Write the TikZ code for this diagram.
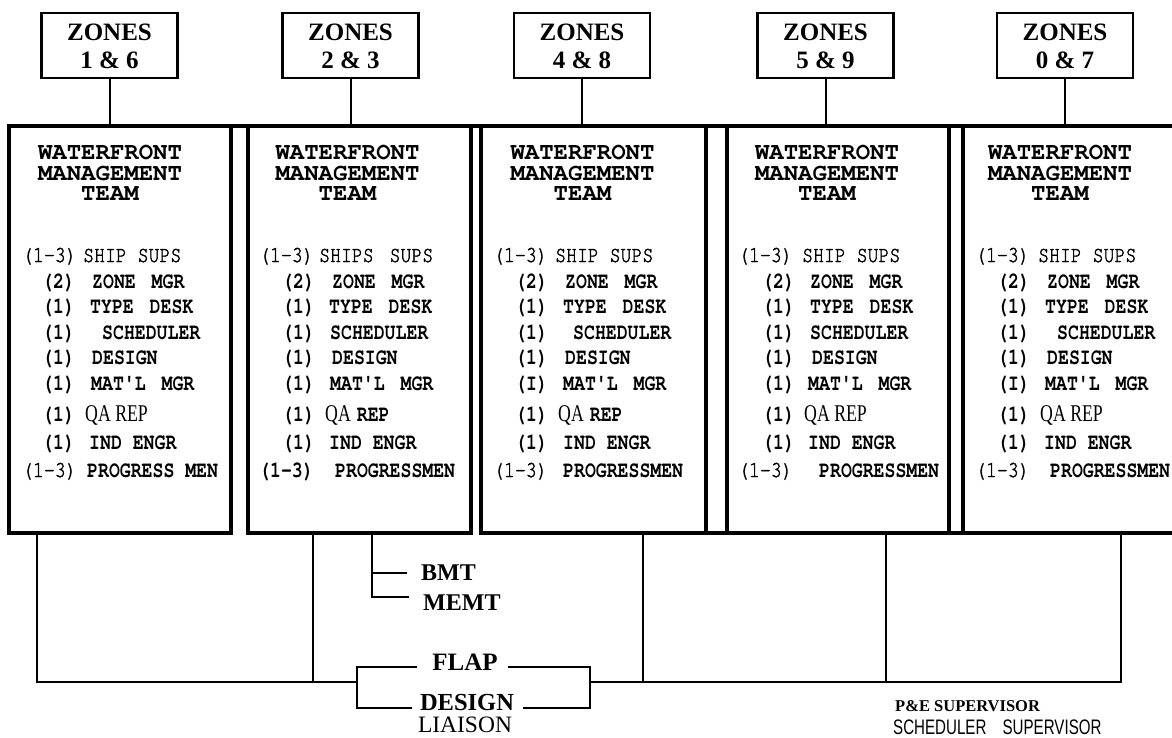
\documentclass[tikz,border=0pt]{standalone}
\usepackage{fontspec}
\setmainfont{Liberation Serif}
\IfFontExistsTF{TeX Gyre Cursor}{%
  \newfontfamily\cur{TeX Gyre Cursor}[Ligatures=TeXOff]
  \newfontfamily\curc{TeX Gyre Cursor}[FakeStretch=0.79,Ligatures=TeXOff]
  \newfontfamily\curm{TeX Gyre Cursor}[FakeStretch=0.79,FakeBold=1.6,Ligatures=TeXOff]
}{%
  \newfontfamily\cur{Liberation Mono}[Ligatures=TeXOff]
  \newfontfamily\curc{Liberation Mono}[FakeStretch=0.79,Ligatures=TeXOff]
  \newfontfamily\curm{Liberation Mono}[FakeStretch=0.79,Ligatures=TeXOff]
}
\newfontfamily\serc{Liberation Serif}[FakeStretch=0.74]
\newfontfamily\sansc{Liberation Sans}[FakeStretch=0.72]
\newcommand\zf{\bfseries\fontsize{25}{28}\selectfont}
\newcommand\wf{\cur\bfseries\fontsize{24}{20.8}\selectfont}
\newcommand\lf{\curc\bfseries\fontsize{23}{23}\selectfont}
\newcommand\lr{\curm\fontsize{23}{23}\selectfont}
\newcommand\qf{\serc\fontsize{24}{24}\selectfont}
\newcommand\gp{\hspace{5pt}}
\newcommand\zl[1]{\raisebox{-3pt}[\height][\depth]{\begin{tabular}{@{}c@{}}ZONES\\#1\end{tabular}}}
\newcounter{nn}
\newcommand\itm[5]{\stepcounter{nn}%
  \node[lbl] (p\thenn) at (#1,#3) {#4};%
  \node[lbl] (t\thenn) at (#2,#3) {#5};}
\tikzset{
  zonebox/.style={draw, line width=2.4pt, minimum width=136pt, minimum height=65pt,
    inner sep=0pt, outer sep=0pt, align=center, font=\zf},
  mainbox/.style={draw, line width=3.6pt, inner sep=0pt, outer sep=0pt},
  frame/.style={line width=3.6pt},
  conn/.style={line width=2pt},
  title/.style={inner sep=0pt, align=center, font=\wf},
  lbl/.style={inner sep=0pt, anchor=base west},
  blbl/.style={inner sep=0pt, font=\bfseries\fontsize{24}{24}\selectfont},
}
\begin{document}
\begin{tikzpicture}[x=1pt,y=-1pt]
\fill[white] (0,0) rectangle (1172,738);
\useasboundingbox (0,0) rectangle (1172,738);

% zone boxes
\node[zonebox] (z1) at (109.5,45.5) {\zl{1 \& 6}};
\node[zonebox] (z2) at (350.5,45.5) {\zl{2 \& 3}};
\node[zonebox] (z3) at (582,45.5) {\zl{4 \& 8}};
\node[zonebox] (z4) at (825.5,45.5) {\zl{5 \& 9}};
\node[zonebox] (z5) at (1065,45.5) {\zl{0 \& 7}};

% main boxes
\node[mainbox, minimum width=222pt, minimum height=407pt] (m1) at (120,329.5) {};
\node[mainbox, minimum width=223pt, minimum height=407pt] (m2) at (359.5,329.5) {};
\node[mainbox, minimum width=225pt, minimum height=407pt] (m3) at (593.5,329.5) {};
\node[mainbox, minimum width=222pt, minimum height=407pt] (m4) at (838,329.5) {};
\node[mainbox, minimum width=237pt, minimum height=407pt] (m5) at (1081.5,329.5) {};
\draw[frame] (m1.north west) -- (m5.north east);
\draw[frame] (m3.south east) -- (m4.south west);
\draw[frame] (m4.south east) -- (m5.south west);

% zone stems
\foreach \i in {1,...,5}{\draw[conn] (z\i.south) -- (z\i.south |- m\i.north);}

% titles
\node[title] (w1) at (110,173) {WATERFRONT\\MANAGEMENT\\TEAM};
\node[title] (w2) at (347.5,173) {WATERFRONT\\MANAGEMENT\\TEAM};
\node[title] (w3) at (582.5,173) {WATERFRONT\\MANAGEMENT\\TEAM};
\node[title] (w4) at (827,173) {WATERFRONT\\MANAGEMENT\\TEAM};
\node[title] (w5) at (1060,173) {WATERFRONT\\MANAGEMENT\\TEAM};

% box A
\itm{22}{83}{262}{\lr(1-3)}{\lr SHIP SUPS}
\itm{42}{92}{288}{\lf(2)}{\lf ZONE \gp MGR}
\itm{42}{90}{313}{\lf(1)}{\lf TYPE \gp DESK}
\itm{42}{102}{339}{\lf(1)}{\lf SCHEDULER}
\itm{42}{92}{364}{\lf(1)}{\lf DESIGN}
\itm{42}{91}{390}{\lf(1)}{\lf MAT'L \gp MGR}
\itm{42}{85}{421}{\lf(1)}{\qf QA REP}
\itm{42}{89}{449}{\lf(1)}{\lf IND ENGR}
\itm{22}{87}{477}{\lr(1-3)}{\lf PROGRESS MEN}
% box B
\itm{259}{319}{262}{\lr(1-3)}{\lr SHIPS \gp SUPS}
\itm{282}{332}{288}{\lf(2)}{\lf ZONE \gp MGR}
\itm{282}{329}{313}{\lf(1)}{\lf TYPE \gp DESK}
\itm{282}{330}{339}{\lf(1)}{\lf SCHEDULER}
\itm{282}{332}{364}{\lf(1)}{\lf DESIGN}
\itm{282}{330}{390}{\lf(1)}{\lf MAT'L \gp MGR}
\itm{282}{325}{421}{\lf(1)}{{\qf QA\hspace{6pt}}{\lf REP}}
\itm{282}{329}{449}{\lf(1)}{\lf IND ENGR}
\itm{259}{335}{477}{\lf(1-3)}{\lf PROGRESSMEN}
% box C
\itm{493}{555}{262}{\lr(1-3)}{\lr SHIP SUPS}
\itm{515}{565}{288}{\lf(2)}{\lf ZONE \gp MGR}
\itm{515}{563}{313}{\lf(1)}{\lf TYPE \gp DESK}
\itm{515}{573}{339}{\lf(1)}{\lf SCHEDULER}
\itm{515}{565}{364}{\lf(1)}{\lf DESIGN}
\itm{515}{563}{390}{\lf(I)}{\lf MAT'L \gp MGR}
\itm{515}{558}{421}{\lf(1)}{{\qf QA\hspace{6pt}}{\lf REP}}
\itm{515}{563}{449}{\lf(1)}{\lf IND ENGR}
\itm{493}{563}{477}{\lr(1-3)}{\lf PROGRESSMEN}
% box D
\itm{738}{802}{262}{\lr(1-3)}{\lr SHIP SUPS}
\itm{762}{810}{288}{\lf(2)}{\lf ZONE \gp MGR}
\itm{762}{810}{313}{\lf(1)}{\lf TYPE \gp DESK}
\itm{762}{810}{339}{\lf(1)}{\lf SCHEDULER}
\itm{762}{812}{364}{\lf(1)}{\lf DESIGN}
\itm{762}{808}{390}{\lf(1)}{\lf MAT'L \gp MGR}
\itm{762}{804}{421}{\lf(1)}{\qf QA REP}
\itm{762}{808}{449}{\lf(1)}{\lf IND ENGR}
\itm{738}{819}{477}{\lr(1-3)}{\lf PROGRESSMEN}
% box E
\itm{975}{1038}{262}{\lr(1-3)}{\lr SHIP SUPS}
\itm{997}{1047}{288}{\lf(2)}{\lf ZONE \gp MGR}
\itm{997}{1045}{313}{\lf(1)}{\lf TYPE \gp DESK}
\itm{997}{1057}{339}{\lf(1)}{\lf SCHEDULER}
\itm{997}{1047}{364}{\lf(1)}{\lf DESIGN}
\itm{997}{1045}{390}{\lf(I)}{\lf MAT'L \gp MGR}
\itm{997}{1040}{421}{\lf(1)}{\qf QA REP}
\itm{997}{1044}{449}{\lf(1)}{\lf IND ENGR}
\itm{975}{1050}{477}{\lr(1-3)}{\lf PROGRESSMEN}

% bottom labels
\node[blbl, anchor=west] (bmt) at (421,573) {BMT};
\node[blbl, anchor=west] (memt) at (423,603) {MEMT};
\node[blbl, font=\bfseries\fontsize{25}{25}\selectfont] (flap) at (465,662) {FLAP};
\node[blbl, font=\bfseries\fontsize{24.5}{24.5}\selectfont] (design) at (467,703) {DESIGN};
\node[inner sep=0pt, font=\fontsize{23.5}{23.5}\selectfont] (liaison) at (465,725) {LIAISON};
\node[inner sep=0pt, anchor=west, font=\bfseries\fontsize{16.5}{16.5}\selectfont] (pe) at (895,706) {P\&E SUPERVISOR};
\node[inner sep=0pt, anchor=west, font=\sansc\fontsize{21}{21}\selectfont] (sch) at (893,727) {SCHEDULER\hspace{12pt} SUPERVISOR};

% bracket
\node[inner sep=0pt, outer sep=0pt, minimum width=233pt, minimum height=41pt] (br) at (473.5,687.5) {};
\coordinate (busy) at (0,682);
\coordinate (xA) at (37,0);
\coordinate (xB) at (313,0);
\coordinate (xM) at (372,0);
\coordinate (xC) at (643,0);
\coordinate (xD) at (886,0);
\coordinate (xE) at (1121,0);
\draw[conn] ([xshift=-15.5pt]flap.west |- br.north) -- (br.north west) -- (br.south west) -- ([xshift=-8pt]design.west |- br.south);
\draw[conn] ([xshift=10.5pt]flap.east |- br.north) -- (br.north east) -- (br.south east) -- ([xshift=9pt]design.east |- br.south);

% connectors below boxes
\draw[conn] (m1.south -| xA) -- (busy -| xA) -- (busy -| br.west);
\draw[conn] (m2.south -| xB) -- (busy -| xB);
\draw[conn] (m2.south -| xM) |- ([xshift=-14pt,yshift=6pt]memt.west);
\draw[conn] (bmt.west -| xM) -- ([xshift=-14pt]bmt.west);
\draw[conn] (busy -| br.east) -- (busy -| xE) -- (m5.south -| xE);
\draw[conn] (m3.south -| xC) -- (busy -| xC);
\draw[conn] (m4.south -| xD) -- (busy -| xD);
\end{tikzpicture}
\end{document}
